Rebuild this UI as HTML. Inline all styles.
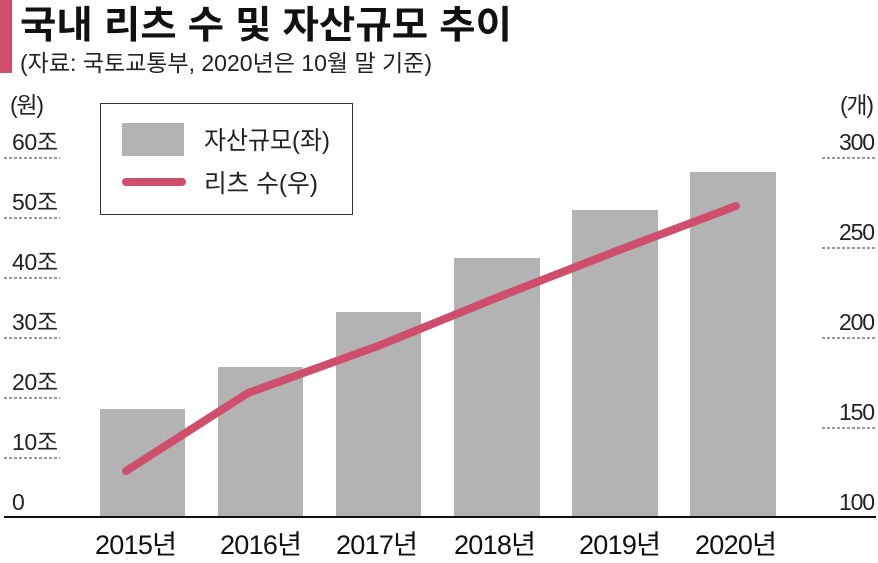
<!DOCTYPE html>
<html><head><meta charset="utf-8"><style>
body{margin:0;background:#fff;}
svg text{font-family:"Liberation Sans","Noto Sans CJK KR",sans-serif;}
</style></head><body>
<svg width="878" height="558" xmlns="http://www.w3.org/2000/svg">
<rect x="0" y="0" width="12" height="73" fill="#cf4e6b"/>
<text x="20" y="38" font-size="38" font-weight="bold" fill="#111" textLength="492" lengthAdjust="spacingAndGlyphs">국내 리츠 수 및 자산규모 추이</text>
<text x="20" y="71" font-size="23" fill="#222" textLength="412" lengthAdjust="spacingAndGlyphs">(자료: 국토교통부, 2020년은 10월 말 기준)</text>
<g font-size="23" fill="#222" lengthAdjust="spacingAndGlyphs">
<text x="10" y="113" textLength="34">(원)</text>
<text x="12" y="150" textLength="46">60조</text>
<text x="12" y="210" textLength="46">50조</text>
<text x="12" y="270" textLength="46">40조</text>
<text x="12" y="330" textLength="46">30조</text>
<text x="12" y="390" textLength="46">20조</text>
<text x="12" y="450" textLength="46">10조</text>
<text x="12" y="510">0</text>
<text x="840" y="113" textLength="34">(개)</text>
<text x="839" y="150" textLength="36">300</text>
<text x="839" y="240" textLength="36">250</text>
<text x="839" y="330" textLength="36">200</text>
<text x="839" y="420" textLength="36">150</text>
<text x="839" y="510" textLength="36">100</text>
</g>
<g stroke="#333" stroke-width="1" stroke-dasharray="3,2">
<path d="M4 158H60M4 218H60M4 278H60M4 338H60M4 398H60M4 458H60"/>
<path d="M822 158H876M822 248H876M822 338H876M822 428H876"/>
</g>
<g fill="#b3b3b3">
<rect x="100" y="409" width="85" height="108"/>
<rect x="218" y="367" width="85" height="150"/>
<rect x="336" y="312" width="85" height="205"/>
<rect x="454" y="258" width="86" height="259"/>
<rect x="572" y="210" width="86" height="307"/>
<rect x="690" y="172" width="86" height="345"/>
</g>
<line x1="4" y1="517" x2="876" y2="517" stroke="#111" stroke-width="2"/>
<polyline points="126,471 248,393 378,346 496,298 614,252 736,206" fill="none" stroke="#cf4e6b" stroke-width="8" stroke-linecap="round" stroke-linejoin="round"/>
<rect x="100.5" y="103.5" width="252" height="111" fill="#fff" stroke="#333" stroke-width="1"/>
<rect x="122" y="123" width="62" height="33" fill="#b3b3b3"/>
<text x="204" y="149" font-size="25" fill="#222" textLength="126" lengthAdjust="spacingAndGlyphs">자산규모(좌)</text>
<line x1="126" y1="182" x2="182" y2="182" stroke="#cf4e6b" stroke-width="8" stroke-linecap="round"/>
<text x="204" y="192" font-size="25" fill="#222" textLength="114" lengthAdjust="spacingAndGlyphs">리츠 수(우)</text>
<g font-size="27" fill="#111" lengthAdjust="spacingAndGlyphs">
<text x="95" y="554" textLength="82">2015년</text>
<text x="220" y="554" textLength="82">2016년</text>
<text x="336" y="554" textLength="82">2017년</text>
<text x="454" y="554" textLength="82">2018년</text>
<text x="579" y="554" textLength="82">2019년</text>
<text x="695" y="554" textLength="82">2020년</text>
</g>
</svg>
</body></html>
